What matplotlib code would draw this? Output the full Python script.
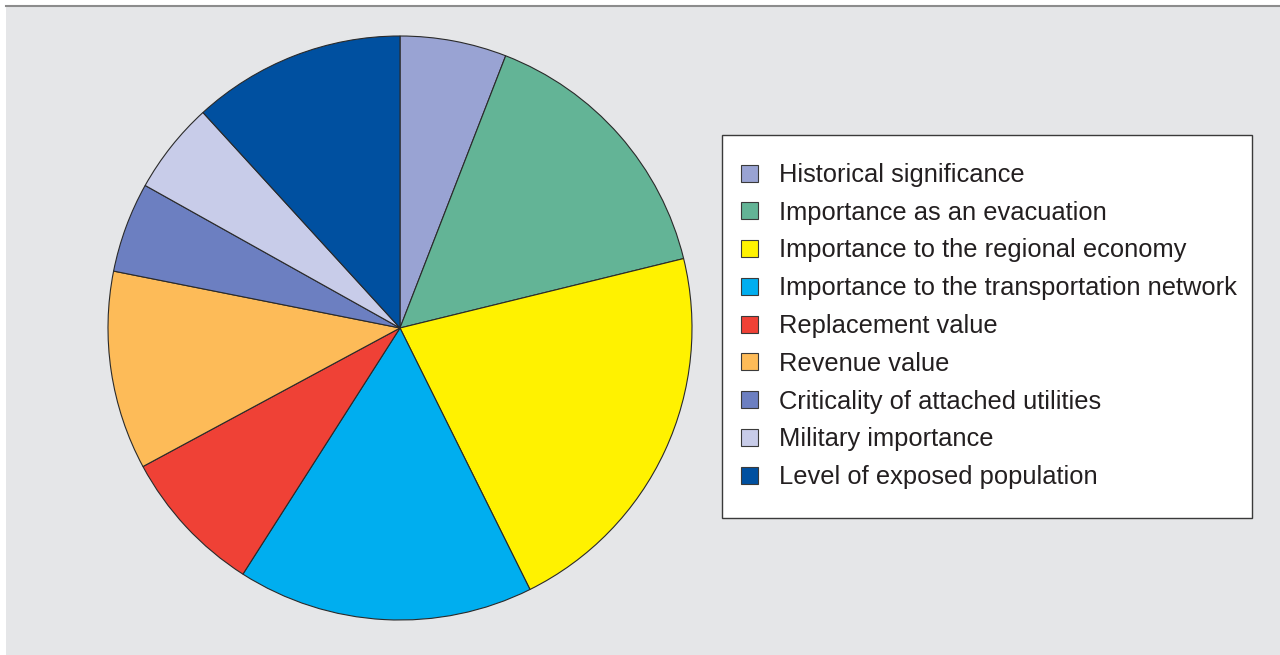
import matplotlib
matplotlib.use("Agg")
import matplotlib.pyplot as plt
from matplotlib.patches import Rectangle
from matplotlib.lines import Line2D

categories = ["Historical significance", "Importance as an evacuation",
              "Importance to the regional economy", "Importance to the transportation network",
              "Replacement value", "Revenue value", "Criticality of attached utilities",
              "Military importance", "Level of exposed population"]
values = [5.9, 15.3, 21.5, 16.4, 8.1, 11.0, 5.0, 5.1, 11.8]
colors = ["#99A3D3", "#63B496", "#FFF200", "#00AEEF", "#EF4136",
          "#FDBB58", "#6C7FC1", "#C8CCE9", "#0050A0"]

W, H = 1280, 655
fig = plt.figure(figsize=(W/100, H/100), dpi=100)
fig.patch.set_facecolor("white")

# background panel
fig.patches.append(Rectangle((6/W, 0), 1 - 6/W, (H - 6)/H, transform=fig.transFigure,
                             facecolor="#E5E6E8", edgecolor="none", zorder=-5))
fig.lines.append(Line2D([6/W, 1], [(H - 6)/H, (H - 6)/H], transform=fig.transFigure,
                        color="#8C8C8C", linewidth=1.5, zorder=-4))

cx, cy, r = 400, H - 328, 292
ax = fig.add_axes([(cx - r)/W, (cy - r)/H, 2*r/W, 2*r/H])
ax.set_zorder(1)
ax.patch.set_visible(False)
wedges, _ = ax.pie(values, colors=colors, startangle=90, counterclock=False,
                   radius=1.0, wedgeprops=dict(edgecolor="#2a2a2a", linewidth=0.8))
ax.set_xlim(-1.0, 1.0)
ax.set_ylim(-1.0, 1.0)
ax.set_aspect("equal")
ax.axis("off")

# legend box
lx0, ly0, lx1, ly1 = 722, 135, 1252, 518
fig.patches.append(Rectangle((lx0/W, 1 - ly1/H), (lx1 - lx0)/W, (ly1 - ly0)/H,
                             transform=fig.transFigure, facecolor="white",
                             edgecolor="#3a3a3a", linewidth=1.0, zorder=2))
row0, step = 173, 37.75
for i, (lab, col) in enumerate(zip(categories, colors)):
    yc = row0 + i*step
    fig.patches.append(Rectangle((741/W, 1 - (yc + 8.5)/H), 17/W, 17/H,
                                 transform=fig.transFigure, facecolor=col,
                                 edgecolor="#3a3a3a", linewidth=0.8, zorder=3))
    fig.text(779/W, 1 - (yc + 2)/H, lab, fontsize=18.4, family="Liberation Sans",
             color="#231F20", va="center", ha="left", zorder=4)

fig.savefig("out.png", dpi=100)
